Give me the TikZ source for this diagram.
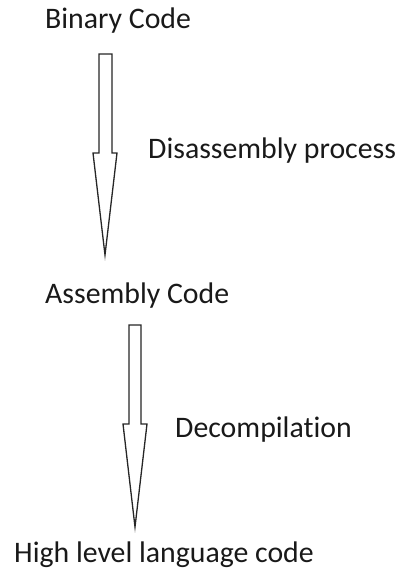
\documentclass[tikz,border=0pt]{standalone}
\usepackage{fontspec}
\setmainfont{Carlito}[Ligatures=NoCommon]
\usetikzlibrary{calc}

\begin{document}
\begin{tikzpicture}[x=1pt,y=-1pt]
        \tikzstyle{every node}=[inner sep=0pt, anchor=base west, text=black!90, font=\fontsize{29.8}{34}\selectfont]
        \tikzstyle{blockarrow}=[draw=black!85, line width=1.3pt, line join=miter, fill=white]
        \useasboundingbox (0,0) rectangle (399,570);
        % labels
        \node (binary) at (45,28) {Binary Code};
        \node (disasm) at (148,158) {Disassembly process};
        \node (assembly) at (45,303) {Assembly Code};
        \node (decomp) at (175,437) {Decompilation};
        \node (highlevel) at (14,562) {High level language code};
        % block arrows between the stages
        \coordinate (topA) at (105.5,54);
        \coordinate (topB) at (135,325);
        \draw[blockarrow] ($(topA)+(-6.5,0)$) -- ++(13,0) -- ++(0,99) -- ++(5,0) -- ++(-12,102) -- ++(-12,-102) -- ++(6,0) -- cycle;
        \draw[blockarrow] ($(topB)+(-6,0)$) -- ++(12,0) -- ++(0,99) -- ++(6,0) -- ++(-12,103) -- ++(-12,-103) -- ++(6,0) -- cycle;
    \end{tikzpicture}
\end{document}
